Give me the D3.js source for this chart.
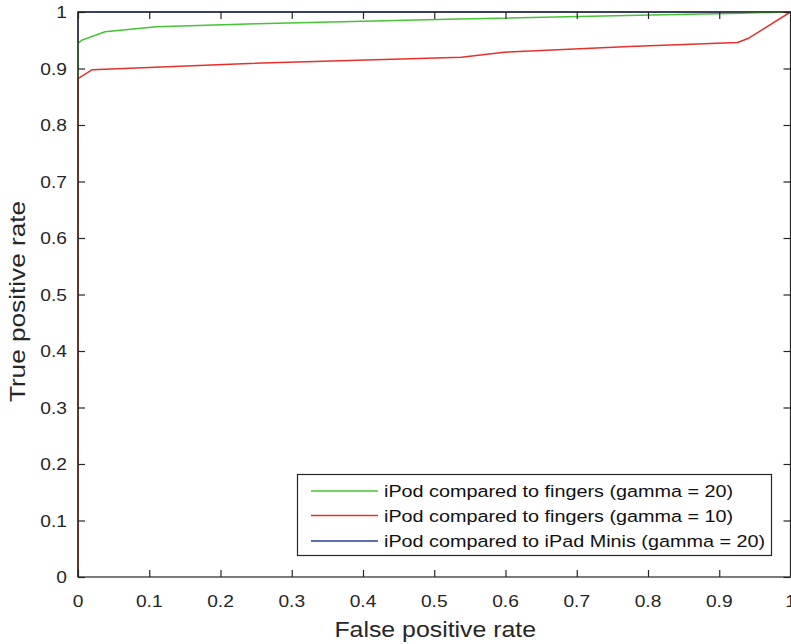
<!DOCTYPE html>
<html>
<head>
<meta charset="utf-8">
<script src="https://cdn.jsdelivr.net/npm/d3@7"></script>
<style>
  html, body { margin: 0; padding: 0; background: #fff; }
  svg { display: block; font-family: "Liberation Sans", Arial, sans-serif; }
</style>
</head>
<body>
<svg id="chart" width="791" height="644"></svg>
<script>
// ---- data ----
const xTicks = [0, 0.1, 0.2, 0.3, 0.4, 0.5, 0.6, 0.7, 0.8, 0.9, 1];
const yTicks = [0, 0.1, 0.2, 0.3, 0.4, 0.5, 0.6, 0.7, 0.8, 0.9, 1];
const xTickLabels = ["0", "0.1", "0.2", "0.3", "0.4", "0.5", "0.6", "0.7", "0.8", "0.9", "1"];
const yTickLabels = ["0", "0.1", "0.2", "0.3", "0.4", "0.5", "0.6", "0.7", "0.8", "0.9", "1"];

const seriesNames = [
  "iPod compared to fingers (gamma = 20)",
  "iPod compared to fingers (gamma = 10)",
  "iPod compared to iPad Minis (gamma = 20)"
];
const seriesColors = ["#45c435", "#e8302a", "#283c96"];

const greenFPR = [0, 0, 0.005, 0.038, 0.11, 0.25, 0.52, 0.77, 0.93, 1];
const greenTPR = [0, 0.944, 0.950, 0.965, 0.974, 0.979, 0.987, 0.994, 0.998, 1];

const redFPR = [0, 0, 0.02, 0.24, 0.538, 0.601, 0.774, 0.926, 0.942, 1];
const redTPR = [0, 0.882, 0.898, 0.909, 0.920, 0.929, 0.939, 0.946, 0.954, 1];

const blueFPR = [0, 0, 1];
const blueTPR = [0, 1, 1];

const xLabel = "False positive rate";
const yLabel = "True positive rate";

// ---- layout ----
const svg = d3.select("#chart");
const mLeft = 78, mRight = 790.5, mTop = 12, mBottom = 577;
const x = d3.scaleLinear().domain([0, 1]).range([mLeft, mRight]);
const y = d3.scaleLinear().domain([0, 1]).range([mBottom, mTop]);
const axisColor = "#262626";
const stretch = 1.13;

// ---- lines ---- (blue drawn first, underneath)
const line = d3.line().x(d => x(d[0])).y(d => y(d[1]));
const series = [
  { fpr: blueFPR, tpr: blueTPR, color: seriesColors[2] },
  { fpr: greenFPR, tpr: greenTPR, color: seriesColors[0] },
  { fpr: redFPR, tpr: redTPR, color: seriesColors[1] }
];
series.forEach(s => {
  svg.append("path")
    .datum(s.fpr.map((f, i) => [f, s.tpr[i]]))
    .attr("fill", "none")
    .attr("stroke", s.color)
    .attr("stroke-width", 1.5)
    .attr("stroke-linejoin", "round")
    .attr("d", line);
});

// ---- axes (box with inward ticks) ----
function styleAxis(g) {
  g.select(".domain").remove();
  g.selectAll(".tick line").attr("stroke", axisColor).attr("stroke-width", 1.2);
  g.selectAll(".tick text").remove();
}
const tickLen = 7;
svg.append("g").attr("transform", `translate(0,${mBottom})`)
  .call(d3.axisBottom(x).tickValues(xTicks).tickSizeInner(-tickLen).tickSizeOuter(0).tickFormat(""))
  .call(styleAxis);
svg.append("g").attr("transform", `translate(0,${mTop})`)
  .call(d3.axisTop(x).tickValues(xTicks).tickSizeInner(-tickLen).tickSizeOuter(0).tickFormat(""))
  .call(styleAxis);
svg.append("g").attr("transform", `translate(${mLeft},0)`)
  .call(d3.axisLeft(y).tickValues(yTicks).tickSizeInner(-tickLen).tickSizeOuter(0).tickFormat(""))
  .call(styleAxis);
svg.append("g").attr("transform", `translate(${mRight},0)`)
  .call(d3.axisRight(y).tickValues(yTicks).tickSizeInner(-tickLen).tickSizeOuter(0).tickFormat(""))
  .call(styleAxis);

svg.append("rect")
  .attr("x", mLeft).attr("y", mTop)
  .attr("width", mRight - mLeft).attr("height", mBottom - mTop)
  .attr("fill", "none").attr("stroke", axisColor).attr("stroke-width", 1.2);

// ---- tick labels ----
xTicks.forEach((v, i) => {
  svg.append("text")
    .attr("transform", `translate(${x(v)},${mBottom + 30}) scale(${stretch},1)`)
    .attr("text-anchor", "middle")
    .attr("font-size", 17)
    .attr("fill", axisColor)
    .text(xTickLabels[i]);
});
yTicks.forEach((v, i) => {
  svg.append("text")
    .attr("transform", `translate(${mLeft - 11},${y(v) + 6}) scale(${stretch},1)`)
    .attr("text-anchor", "end")
    .attr("font-size", 17)
    .attr("fill", axisColor)
    .text(yTickLabels[i]);
});

// ---- axis titles ----
svg.append("text")
  .attr("transform", `translate(${(mLeft + mRight) / 2 + 1},${mBottom + 60}) scale(${stretch},1)`)
  .attr("text-anchor", "middle")
  .attr("font-size", 22)
  .attr("fill", axisColor)
  .text(xLabel);
svg.append("text")
  .attr("transform", `translate(25,301.5) rotate(-90) scale(1.19,1)`)
  .attr("text-anchor", "middle")
  .attr("font-size", 22)
  .attr("fill", axisColor)
  .text(yLabel);

// ---- legend ----
const lg = svg.append("g");
lg.append("rect")
  .attr("x", 297.5).attr("y", 474.5)
  .attr("width", 474).attr("height", 81)
  .attr("fill", "#fff").attr("stroke", axisColor).attr("stroke-width", 1.2);
const rowY = [491, 515.5, 541];
seriesNames.forEach((name, i) => {
  lg.append("line")
    .attr("x1", 311).attr("x2", 378)
    .attr("y1", rowY[i]).attr("y2", rowY[i])
    .attr("stroke", seriesColors[i]).attr("stroke-width", 1.5);
  lg.append("text")
    .attr("transform", `translate(384,${rowY[i] + 6}) scale(1.165,1)`)
    .attr("font-size", 17)
    .attr("fill", "#111")
    .text(name);
});
</script>
</body>
</html>
